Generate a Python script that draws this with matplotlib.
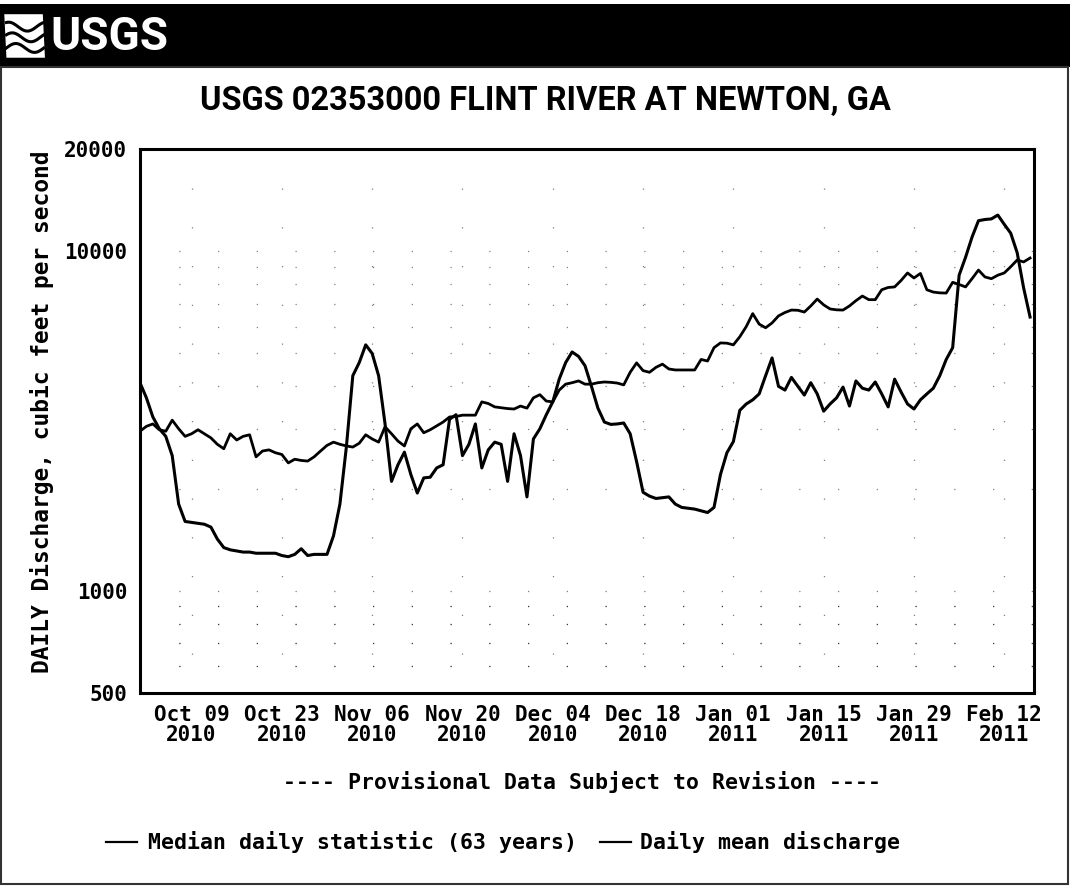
import numpy as np
import pandas as pd
import matplotlib
matplotlib.use("Agg")
import matplotlib.pyplot as plt
import matplotlib.dates as mdates
from matplotlib.lines import Line2D
from matplotlib.patches import Rectangle, Polygon
from matplotlib.ticker import FixedLocator, NullFormatter

# daily values, Oct 01 2010 .. Feb 16 2011 (cfs)
start = "2010-10-01"

median_cfs = [
    2950, 3050, 3100, 2980, 2950, 3180, 3000, 2850, 2900, 2980,
    2900, 2820, 2700, 2620, 2900, 2780, 2850, 2880, 2480, 2580,
    2600, 2550, 2520, 2380, 2440, 2420, 2410, 2480, 2580, 2680,
    2740, 2700, 2670, 2650, 2720, 2880, 2800, 2740, 3040, 2900,
    2760, 2670, 3000, 3100, 2920, 2980, 3060, 3140, 3250, 3260,
    3290, 3290, 3290, 3600, 3560, 3480, 3460, 3440, 3430, 3500,
    3450, 3700, 3780, 3620, 3600, 3900, 4060, 4100, 4150, 4060,
    4060, 4100, 4120, 4110, 4090, 4040, 4400, 4690, 4450, 4400,
    4550, 4650, 4500, 4470, 4470, 4470, 4470, 4800, 4750, 5200,
    5370, 5360, 5300, 5600, 6000, 6550, 6100, 5950, 6150, 6450,
    6600, 6710, 6700, 6620, 6900, 7230, 6950, 6760, 6720, 6710,
    6900, 7150, 7380, 7200, 7200, 7700, 7820, 7850, 8200, 8630,
    8340, 8600, 7700, 7580, 7540, 7530, 8100, 7980, 7850, 8300,
    8800, 8400, 8300, 8500, 8630, 9000, 9420, 9300, 9550,
]

mean_cfs = [
    4100, 3700, 3250, 3000, 2850, 2500, 1800, 1600, 1590, 1580,
    1570, 1540, 1420, 1340, 1320, 1310, 1300, 1300, 1290, 1290,
    1290, 1290, 1270, 1260, 1280, 1330, 1270, 1280, 1280, 1280,
    1450, 1800, 2650, 4300, 4700, 5300, 5000, 4300, 3100, 2100,
    2350, 2560, 2200, 1940, 2150, 2160, 2300, 2350, 3200, 3300,
    2500, 2700, 3100, 2300, 2600, 2740, 2700, 2100, 2900, 2500,
    1890, 2800, 3000, 3300, 3600, 4200, 4700, 5050, 4900, 4600,
    4000, 3450, 3140, 3090, 3100, 3120, 2900, 2400, 1950, 1900,
    1870, 1880, 1890, 1800, 1760, 1750, 1740, 1720, 1700, 1760,
    2200, 2550, 2750, 3400, 3550, 3650, 3800, 4300, 4850, 4000,
    3900, 4250, 4000, 3770, 4100, 3800, 3380, 3550, 3700, 3980,
    3500, 4150, 3950, 3900, 4120, 3800, 3480, 4200, 3850, 3550,
    3430, 3650, 3800, 3950, 4300, 4800, 5200, 8500, 9600, 11000,
    12300, 12400, 12450, 12780, 12000, 11300, 9900, 7800, 6400,
]

tick_dates = ["2010-10-09", "2010-10-23", "2010-11-06", "2010-11-20", "2010-12-04",
              "2010-12-18", "2011-01-01", "2011-01-15", "2011-01-29", "2011-02-12"]
y_ticks = [500, 1000, 10000, 20000]
y_ticklabels = ["500", "1000", "10000", "20000"]

title = "USGS 02353000 FLINT RIVER AT NEWTON, GA"
ylabel = "DAILY Discharge, cubic feet per second"
note = "---- Provisional Data Subject to Revision ----"
legend_labels = ["Median daily statistic (63 years)", "Daily mean discharge"]

days = pd.date_range(start, periods=len(mean_cfs), freq="D")
t0 = pd.Timestamp(start)

mono = ["DejaVu Sans Mono"]
narrow = ["Roboto", "DejaVu Sans"]

fig = plt.figure(figsize=(10.70, 8.88), dpi=100)
fig.patch.set_facecolor("white")

# header bar with logo
fig.patches.append(Rectangle((0, 0.924), 1, 0.071, transform=fig.transFigure,
                             facecolor="black", edgecolor="none", zorder=0))
icon = Polygon([(0.006, 0.935), (0.042, 0.935), (0.040, 0.984), (0.004, 0.984)],
               closed=True, transform=fig.transFigure, facecolor="white",
               edgecolor="none", zorder=1)
fig.patches.append(icon)
wx = np.linspace(0.006, 0.041, 40)
for k, base in enumerate([0.946, 0.958, 0.970]):
    wy = base + 0.005 * np.sin((wx - 0.006) / 0.035 * 2 * np.pi + k * 0.6)
    fig.lines.append(Line2D(wx, wy, transform=fig.transFigure, color="black",
                            linewidth=2.2, zorder=2))
fig.text(0.047, 0.958, "USGS", color="white", fontsize=33, fontweight="bold",
         family=narrow, ha="left", va="center")

# outer frame
fig.patches.append(Rectangle((0.001, 0.004), 0.997, 0.92, transform=fig.transFigure,
                             facecolor="none", edgecolor="#333333", linewidth=1.5))

fig.text(0.510, 0.886, title, fontsize=23.5, fontweight="bold", family=narrow,
         ha="center", va="center")

ax = fig.add_axes([0.1308, 0.2196, 0.8355, 0.6126])
ax.plot(days, median_cfs, color="black", linewidth=2.0, zorder=3)
ax.plot(days, mean_cfs, color="black", linewidth=2.2, zorder=3)

ax.set_yscale("log")
ax.set_ylim(500, 20000)
ax.set_xlim(t0, t0 + pd.Timedelta(days=138.6))

ax.yaxis.set_major_locator(FixedLocator(y_ticks))
ax.set_yticklabels(y_ticklabels)
minor = [v * m for m in (100, 1000) for v in range(2, 10)] + [600, 700, 800, 900]
ax.yaxis.set_minor_locator(FixedLocator(minor))
ax.yaxis.set_minor_formatter(NullFormatter())

ticks = [pd.Timestamp(d) for d in tick_dates]
ax.set_xticks(ticks)
ax.xaxis.set_major_formatter(mdates.DateFormatter("%b %d\n%Y"))

ax.tick_params(axis="both", which="both", length=0, pad=9)
for lab in ax.get_xticklabels() + ax.get_yticklabels():
    lab.set_family(mono)
    lab.set_fontweight("bold")
    lab.set_fontsize(15)
for lab in ax.get_xticklabels():
    lab.set_linespacing(1.0)

# sparse dotted grid
grid_style = dict(color="black", linewidth=0.9, dashes=(1, 30), alpha=0.5)
ax.grid(True, axis="x", which="major", **grid_style)
ax.grid(True, axis="y", which="both", **grid_style)

for s in ax.spines.values():
    s.set_linewidth(2.2)

fig.text(0.039, 0.5365, ylabel, rotation=90, fontsize=16.5, fontweight="bold",
         family=mono, ha="center", va="center")

fig.text(0.544, 0.119, note, fontsize=15.5, fontweight="bold", family=mono,
         ha="center", va="center")

# legend row drawn as text with short line keys
ly = 0.052
fig.lines.append(Line2D([0.099, 0.128], [ly, ly], transform=fig.transFigure,
                        color="black", linewidth=1.6))
fig.text(0.138, ly, legend_labels[0], fontsize=15.5, fontweight="bold",
         family=mono, ha="left", va="center")
fig.lines.append(Line2D([0.561, 0.590], [ly, ly], transform=fig.transFigure,
                        color="black", linewidth=1.6))
fig.text(0.598, ly, legend_labels[1], fontsize=15.5, fontweight="bold",
         family=mono, ha="left", va="center")

fig.savefig("out.png", dpi=100)
